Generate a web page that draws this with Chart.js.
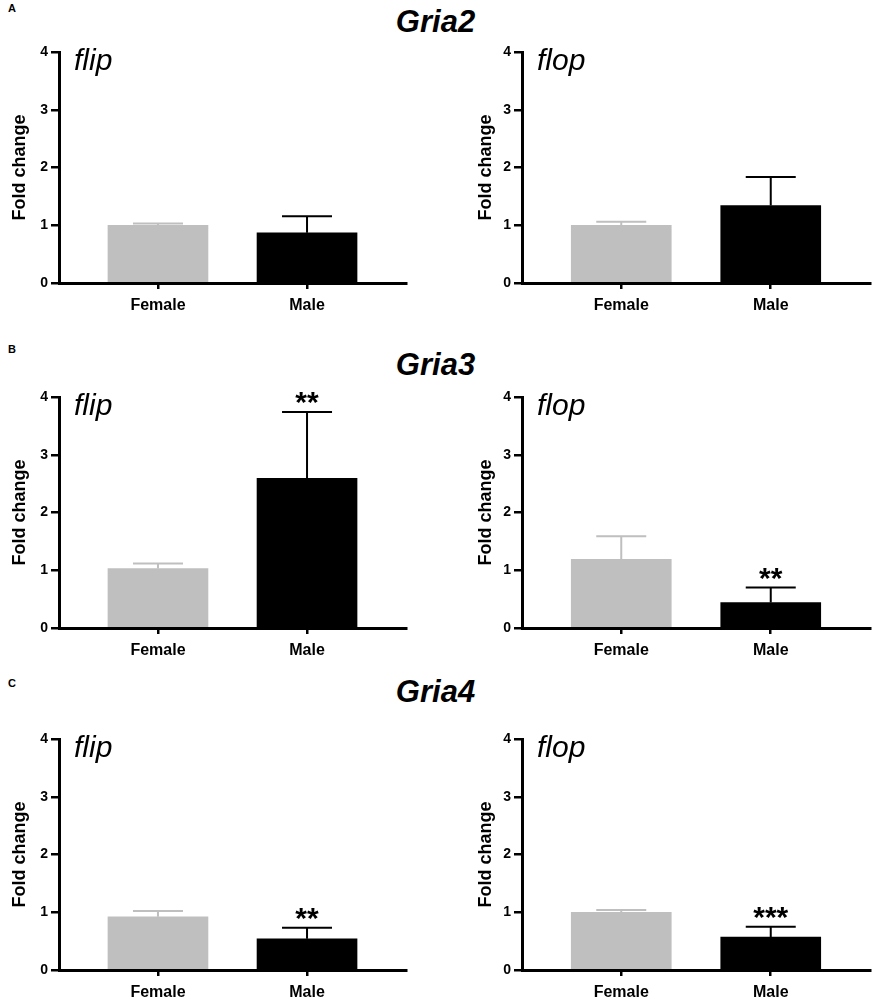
<!DOCTYPE html>
<html>
<head>
<meta charset="utf-8">
<script src="https://cdn.jsdelivr.net/npm/chart.js@4.4.0/dist/chart.umd.min.js"></script>
<style>
html, body { margin: 0; padding: 0; background: #fff; overflow: hidden; }
body { width: 875px; height: 1000px; position: relative; font-family: "Liberation Sans", Arial, sans-serif; }
.gene { position: absolute; left: -2px; width: 875px; text-align: center; font: italic bold 31px/31px "Liberation Sans", Arial, sans-serif; color: #000; }
.letter { position: absolute; left: 8px; font: bold 11px/11px "Liberation Sans", Arial, sans-serif; color: #000; }
canvas { position: absolute; }
</style>
</head>
<body>
<div class="letter" style="top:3px">A</div>
<div class="letter" style="top:344px">B</div>
<div class="letter" style="top:678px">C</div>
<div class="gene" id="gene0" style="top:5.5px"></div>
<div class="gene" id="gene1" style="top:349px"></div>
<div class="gene" id="gene2" style="top:675.5px"></div>

<script>
const genes = ['Gria2', 'Gria3', 'Gria4'];
const isoforms = ['flip', 'flop'];
const sexes = ['Female', 'Male'];
const yTicks = [0, 1, 2, 3, 4];

// fold change [Female, Male] for each gene, with upper error (SEM)
const flipMean = [[1.00, 0.87], [1.03, 2.59], [0.92, 0.54]];
const flipErr  = [[0.03, 0.285], [0.085, 1.15], [0.10, 0.19]];
const flopMean = [[1.00, 1.34], [1.19, 0.44], [1.00, 0.57]];
const flopErr  = [[0.06, 0.495], [0.40, 0.26], [0.04, 0.18]];
const flipStars = [['', ''], ['', '**'], ['', '**']];
const flopStars = [['', ''], ['', '**'], ['', '***']];

const barColors = ['#bfbfbf', '#000000'];
const FONT = '"Liberation Sans", Arial, sans-serif';

Chart.defaults.color = '#000';
Chart.defaults.font.family = FONT;

// error bars, stars and the flip/flop label
const errorBars = {
  id: 'errorBars',
  afterDatasetsDraw(chart, args, opts) {
    const ctx = chart.ctx;
    const y = chart.scales.y;
    const meta = chart.getDatasetMeta(0);
    meta.data.forEach((bar, i) => {
      const top = y.getPixelForValue(opts.mean[i] + opts.err[i]);
      ctx.save();
      ctx.strokeStyle = barColors[i];
      ctx.lineWidth = 2;
      ctx.beginPath();
      ctx.moveTo(bar.x, bar.y);
      ctx.lineTo(bar.x, top);
      ctx.moveTo(bar.x - 25, top);
      ctx.lineTo(bar.x + 25, top);
      ctx.stroke();
      if (opts.stars[i]) {
        ctx.fillStyle = '#000';
        ctx.font = 'bold 30px ' + FONT;
        ctx.textAlign = 'center';
        ctx.textBaseline = 'alphabetic';
        ctx.fillText(opts.stars[i], bar.x, top);
      }
      ctx.restore();
    });
    ctx.save();
    ctx.fillStyle = '#000';
    ctx.font = 'italic 30px ' + FONT;
    ctx.textAlign = 'left';
    ctx.textBaseline = 'alphabetic';
    ctx.fillText(opts.label, chart.chartArea.left + 15, chart.chartArea.top + 18);
    ctx.restore();
  }
};

const rowTops = [40, 385, 727];
const colLefts = [0, 463];
const colWidths = [430, 412];
const colPadRight = [24, 5];

function makePanel(g, k) {
  const mean = k === 0 ? flipMean[g] : flopMean[g];
  const err = k === 0 ? flipErr[g] : flopErr[g];
  const stars = k === 0 ? flipStars[g] : flopStars[g];

  const cv = document.createElement('canvas');
  cv.width = colWidths[k];
  cv.height = 283;
  cv.style.left = colLefts[k] + 'px';
  cv.style.top = rowTops[g] + 'px';
  cv.style.width = colWidths[k] + 'px';
  cv.style.height = '283px';
  document.body.appendChild(cv);

  new Chart(cv, {
    type: 'bar',
    data: {
      datasets: [{
        data: sexes.map((s, i) => ({ x: i, y: mean[i] })),
        backgroundColor: barColors,
        borderWidth: 0,
        barThickness: 100
      }]
    },
    plugins: [errorBars],
    options: {
      responsive: false,
      animation: false,
      layout: { padding: { left: 0, right: colPadRight[k], top: 12, bottom: 0 } },
      plugins: {
        legend: { display: false },
        tooltip: { enabled: false },
        errorBars: { mean: mean, err: err, stars: stars, label: isoforms[k] }
      },
      scales: {
        x: {
          type: 'linear',
          min: -0.664,
          max: 1.664,
          offset: false,
          afterBuildTicks: (s) => { s.ticks = sexes.map((c, i) => ({ value: i })); },
          afterFit: (s) => { s.height = 40; },
          ticks: {
            autoSkip: false,
            padding: 7,
            font: { size: 16, weight: 'bold' },
            callback: (v) => sexes[Math.round(v)]
          },
          grid: { display: true, offset: false, drawOnChartArea: false, drawTicks: true, tickLength: 6, color: '#000', lineWidth: 2.5 },
          border: { display: true, color: '#000', width: 3 }
        },
        y: {
          min: 0,
          max: 4,
          afterBuildTicks: (s) => { s.ticks = yTicks.map(v => ({ value: v })); },
          afterFit: (s) => { s.width = 59; },
          ticks: { padding: 3, font: { size: 14, weight: 'bold' } },
          title: {
            display: true,
            text: 'Fold change',
            font: { size: 18, weight: 'bold' },
            padding: { top: k === 0 ? 9 : 12, bottom: 0 }
          },
          grid: { display: true, drawOnChartArea: false, drawTicks: true, tickLength: 8, color: '#000', lineWidth: 2.5 },
          border: { display: true, color: '#000', width: 3 }
        }
      }
    }
  });
}

genes.forEach((name, g) => {
  document.getElementById('gene' + g).textContent = name;
  makePanel(g, 0);
  makePanel(g, 1);
});
</script>
</body>
</html>
